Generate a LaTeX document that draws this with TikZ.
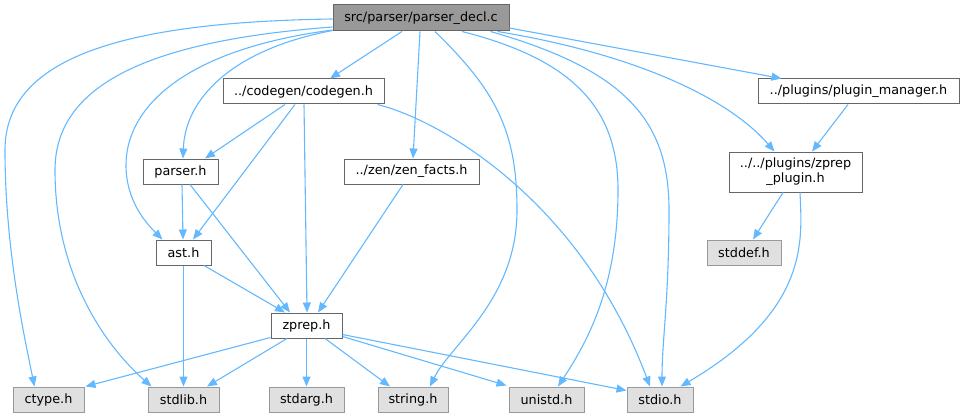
\documentclass[tikz,border=0pt]{standalone}
\usepackage{fontspec}
\setmainfont{DejaVu Sans}
\usetikzlibrary{arrows.meta,calc}
\definecolor{edgeblue}{HTML}{63B8FF}
\definecolor{grayforty}{HTML}{666666}
\definecolor{graysixty}{HTML}{999999}
\definecolor{sysfill}{HTML}{E0E0E0}
\tikzset{
  box/.style={draw=grayforty, fill=white, line width=1pt, inner sep=0pt, font=\fontsize{12.8}{15}\selectfont, text=black},
  mainbox/.style={box, fill=graysixty},
  sysbox/.style={box, draw=graysixty, fill=sysfill},
  dep/.style={draw=edgeblue, line width=1.1pt, -{Triangle[length=10pt,width=8pt]}},
}
\begin{document}
\begin{tikzpicture}[x=1pt,y=-1pt]
\useasboundingbox (0,0) rectangle (965,417);
% nodes
\node[mainbox, minimum width=176pt, minimum height=26pt] (main) at (421,18) {src/parser/parser\_decl.c};
\node[box, minimum width=161pt, minimum height=25pt] (codegen) at (303.5,91.5) {../codegen/codegen.h};
\node[box, minimum width=75pt, minimum height=25pt] (parser) at (180.5,171.5) {parser.h};
\node[box, minimum width=135pt, minimum height=25pt] (zen) at (411.5,171.5) {../zen/zen\_facts.h};
\node[box, minimum width=201pt, minimum height=25pt] (pm) at (858.5,91.5) {../plugins/plugin\_manager.h};
\node[box, minimum width=133pt, minimum height=40pt, align=center] (zpp) at (795.5,172) {../../plugins/zprep\\\_plugin.h};
\node[box, minimum width=55pt, minimum height=25pt] (ast) at (183.5,252.5) {ast.h};
\node[box, minimum width=71pt, minimum height=25pt] (zprep) at (306.5,325.5) {zprep.h};
\node[sysbox, minimum width=71pt, minimum height=25pt] (ctype) at (48.5,399.5) {ctype.h};
\node[sysbox, minimum width=71pt, minimum height=25pt] (stdlib) at (183.5,399.5) {stdlib.h};
\node[sysbox, minimum width=75pt, minimum height=25pt] (stdarg) at (306.5,399.5) {stdarg.h};
\node[sysbox, minimum width=70pt, minimum height=25pt] (string) at (413,399.5) {string.h};
\node[sysbox, minimum width=75pt, minimum height=25pt] (unistd) at (546.5,399.5) {unistd.h};
\node[sysbox, minimum width=66pt, minimum height=25pt] (stdio) at (660,399.5) {stdio.h};
\node[sysbox, minimum width=74pt, minimum height=25pt] (stddef) at (744,252.5) {stddef.h};
% edges from main
\draw[dep] ($(main.south)+(-19,0)$) -- ($(codegen.north)+(26.5,0)$);
\draw[dep] ($(main.south)+(-1,0)$) -- ($(zen.north)+(1.5,0)$);
\draw[dep] ($(main.east)+(0,10)$) -- ($(pm.north west)+(24,0)$);
\draw[dep] ($(main.west)+(0,1)$) .. controls (130,22) and (5,55) .. (5,150) .. controls (5,250) and (25,340) .. ($(ctype.north west)+(22,0)$);
\draw[dep] ($(main.west)+(0,9)$) .. controls (160,40) and (55,80) .. (55,170) .. controls (55,280) and (110,350) .. ($(stdlib.north west)+(4,0)$);
\draw[dep] ($(main.west)+(0,12)$) .. controls (180,50) and (126,110) .. (126,165) .. controls (126,200) and (145,222) .. ($(ast.north west)+(7,0)$);
\draw[dep] ($(main.south west)+(0,-1)$) .. controls (230,50) and (185,100) .. ($(parser.north)+(2.5,0)$);
\draw[dep] ($(main.south)+(14,0)$) .. controls (495,90) and (517,130) .. (517,210) .. controls (517,300) and (450,345) .. ($(string.north)+(17,0)$);
\draw[dep] ($(main.south)+(41,0)$) .. controls (575,60) and (618,110) .. (618,190) .. controls (618,290) and (585,345) .. ($(unistd.north)+(11.5,0)$);
\draw[dep] ($(main.south east)+(-19,0)$) .. controls (625,70) and (669,120) .. (669,210) .. controls (669,300) and (662,340) .. ($(stdio.north)+(2,0)$);
\draw[dep] ($(main.south east)+(-12,0)$) .. controls (640,55) and (730,100) .. ($(zpp.north west)+(46,0)$);
% codegen
\draw[dep] ($(codegen.south)+(-18.5,0)$) -- ($(parser.north)+(24.5,0)$);
\draw[dep] ($(codegen.south)+(-8.5,0)$) -- ($(ast.north)+(9.5,0)$);
\draw[dep] ($(codegen.south)+(0.5,0)$) -- ($(zprep.north)+(0.5,0)$);
\draw[dep] ($(codegen.south east)+(-7,0)$) .. controls (440,120) and (580,200) .. ($(stdio.north)+(-10,0)$);
% parser, zen, ast
\draw[dep] ($(parser.south)+(1.5,0)$) -- ($(ast.north)+(-0.5,0)$);
\draw[dep] ($(parser.south)+(9.5,0)$) -- ($(zprep.north)+(-16.5,0)$);
\draw[dep] ($(zen.south)+(-8.5,0)$) -- ($(zprep.north)+(11.5,0)$);
\draw[dep] ($(ast.south)+(20.5,0)$) -- ($(zprep.north)+(-21.5,0)$);
\draw[dep] (ast.south) -- (stdlib.north);
% zprep
\draw[dep] ($(zprep.south west)+(0,-1)$) -- ($(ctype.north east)+(1,0)$);
\draw[dep] ($(zprep.south)+(-19.5,0)$) -- ($(stdlib.north)+(23.5,0)$);
\draw[dep] (zprep.south) -- (stdarg.north);
\draw[dep] ($(zprep.south)+(18.5,0)$) -- ($(string.north)+(-23,0)$);
\draw[dep] ($(zprep.south east)+(0,-2)$) -- ($(unistd.north west)+(-2,-1)$);
\draw[dep] ($(zprep.east)+(0,9)$) -- ($(stdio.west)+(0,-9)$);
% plugins
\draw[dep] ($(pm.south)+(-10.5,0)$) -- ($(zpp.north)+(16.5,0)$);
\draw[dep] ($(zpp.south)+(-12.5,0)$) -- ($(stddef.north)+(9,0)$);
\draw[dep] ($(zpp.south)+(4.5,0)$) .. controls (802,240) and (810,310) .. ($(stdio.north east)+(-13,0)$);
\end{tikzpicture}
\end{document}
